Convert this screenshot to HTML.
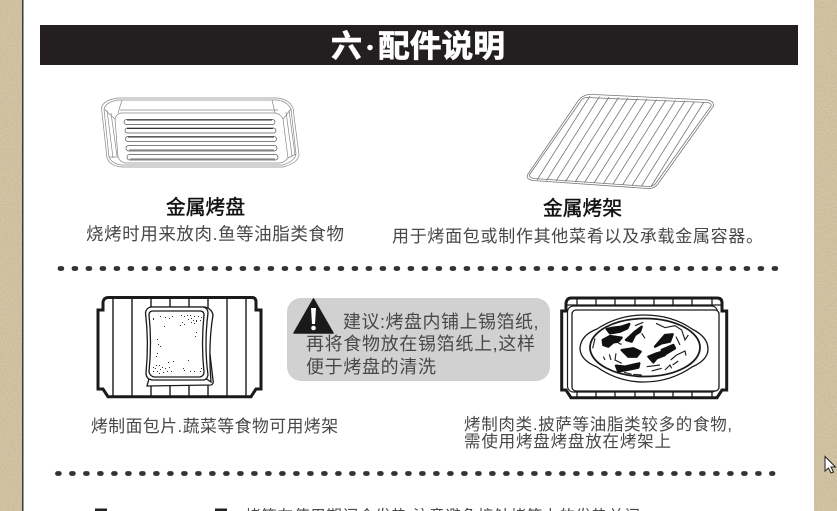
<!DOCTYPE html>
<html lang="zh"><head><meta charset="utf-8"><style>
html,body{margin:0;padding:0;width:837px;height:511px;overflow:hidden;background:#fff}
svg{display:block}
text{font-family:"Liberation Sans","Noto Sans CJK SC",sans-serif;fill:#484848}
</style></head><body>
<svg width="837" height="511" viewBox="0 0 837 511" xmlns="http://www.w3.org/2000/svg">
<defs><filter id="tex" x="0" y="0" width="100%" height="100%"><feTurbulence type="fractalNoise" baseFrequency=".7" numOctaves="2" seed="3"/><feColorMatrix values="0 0 0 0 .2  0 0 0 0 .15  0 0 0 0 .05  0 0 0 .9 -.3"/></filter></defs>
<rect width="837" height="511" fill="#fff"/>
<rect x="0" y="0" width="22" height="511" fill="#d4c6a6"/>
<rect x="814" y="0" width="23" height="511" fill="#d4c6a6"/>
<rect x="0" y="0" width="22" height="511" filter="url(#tex)" opacity=".35"/>
<rect x="814" y="0" width="23" height="511" filter="url(#tex)" opacity=".35"/>
<rect x="22" y="0" width="1.5" height="511" fill="#3c3a36"/>

<rect x="40" y="25" width="758" height="40" fill="#231f20"/>
<text x="331" y="57" style="fill:#fff;stroke:#fff;stroke-width:.7;font-size:31px;font-weight:700">六</text>
<circle cx="370" cy="47.500" r="2.800" fill="#fff"/>
<text x="378" y="57" textLength="127" lengthAdjust="spacingAndGlyphs" style="fill:#fff;stroke:#fff;stroke-width:.7;font-size:31px;font-weight:700">配件说明</text>

<!-- tray -->
<g fill="none" stroke="#888" stroke-width=".7">
<path d="M118 98H277Q289 99 293 108L299 155Q298 163 283 167H122Q110 166 107 158L101.500 108Q103 100 118 98Z"/>
<path d="M118 100H277Q287 101 291 109L296 154Q295 161 283 165H122Q112 164 109 157L104 109Q106 102 118 100Z"/>
<path d="M121 113H275Q281 114 283 119L288 158Q285 162 280 163H125Q120 162 118 157L115 119Q116 114 121 113Z"/>
<path d="M118 113L122 100M275 113L272 100M283 119L291 109M115 119L104 109M118 157L109 157M288 158L296 154M111 113L117 156M286 112L292 156M107 110L113 158M289 110L295 155"/>
<path d="M120 110H278"/>
</g>
<g fill="#fff" stroke="#555" stroke-width=".7">
<rect x="124" y="119.500" width="151" height="5" rx="2.500"/>
<rect x="125" y="128" width="151" height="5" rx="2.500"/>
<rect x="125.500" y="136.500" width="151" height="5" rx="2.500"/>
<rect x="126" y="145.500" width="151" height="5.500" rx="2.700"/>
<rect x="127" y="154.500" width="151" height="5.500" rx="2.700"/>
</g>
<g stroke="#333" fill="none"><path d="M127 120H272M127 128.500H273M128 137H274" stroke-width="1"/><path d="M129 150H274M130 159H275" stroke="#888" stroke-width="1.200"/></g>

<!-- rack -->
<g fill="none" stroke="#777" stroke-width=".8">
<path d="M584 96Q587 94 594 94.500L708 100Q714 101 713.500 106L658 184Q654 189 648 188.500L533 180.500Q525 179 528 174L578 101Q581 97 584 96Z"/>
<path d="M586 97.500L707 102.500Q712 103 711 106L656 183Q653 187 648 186.500L534 178.500Q528 177.500 530 174L580 102Q582 98 586 97.500Z"/>
<path d="M590 96L537 180M599.500 96.500L546.500 180.500M609 97L556 181M618.500 97.500L565.500 181.500M628 98L575 182M637.500 98.500L584.500 182.500M647 99L594 183M656.500 99.500L603.500 183.500M666 100L613 184M675.500 100.500L622.500 185M685 101L632 185.500M694.500 101.500L641.500 186M704 102L651 186.500"/>
</g>

<text x="166" y="214" font-size="19.700" textLength="79" style="fill:#111;stroke:#111;stroke-width:.45">金属烤盘</text>
<text x="86" y="240" font-size="17.500" textLength="258">烧烤时用来放肉.鱼等油脂类食物</text>
<text x="543" y="215" font-size="19.700" textLength="79" style="fill:#111;stroke:#111;stroke-width:.45">金属烤架</text>
<text x="392" y="242" font-size="17" textLength="371">用于烤面包或制作其他菜肴以及承载金属容器。</text>

<!-- dotted rows -->
<line x1="60" y1="268.500" x2="778" y2="268.500" stroke="#333" stroke-width="4.800" stroke-linecap="round" stroke-dasharray="1.800 12.200"/>
<line x1="57.500" y1="473.500" x2="773" y2="473.500" stroke="#333" stroke-width="4.800" stroke-linecap="round" stroke-dasharray="1.800 12.200"/>

<!-- bread on rack -->
<path d="M98 310H103V302Q104 297.500 108 297.500H252Q256 297.500 256 302V310H261V389H256L251 396.700H108L103 389H98Z" fill="#fff" stroke="#1a1a1a" stroke-width="3"/>
<path d="M113 297V397M132 297V397M151 297V397M170 297V397M189 297V397M208 297V397M227 297V397M246 297V397" stroke="#1a1a1a" stroke-width="1.400"/>
<g stroke="#1a1a1a" fill="#fff" stroke-width="1.300">
<path d="M150 375L147 386L211 385Q214 384 213 380L206 320Z"/>
<path d="M150 307H205Q212 309 213 315Q208 345 211 382L205 378H150Z"/>
<path d="M151 307H203Q208 308 208 313Q204 345 208 375Q207 380 203 380H152Q146 379 146 373Q149 342 145.500 313Q146 308 151 307Z"/>
<path d="M153 311H200Q204 311 204 315Q201 345 204 372Q204 376 200 377H154Q150 376 149 372Q152 342 149 315Q149 311 153 311Z"/>
</g>
<g fill="#333">
<path d="M153 318h1v2h-1zM160 316h1v1h-1zM165 317h1v1h-1zM169 318h1v1h-1zM172 316h1v1h-1zM181 315h1v1h-1zM184 316h1v1h-1zM187 315h1v1h-1zM190 315h1v1h-1zM194 316h1v1h-1zM198 316h1v1h-1zM201 317h1v1h-1zM188 319h1v1h-1zM191 318h1v1h-1zM193 320h1v1h-1zM196 320h1v2h-1zM200 320h1v1h-1zM182 322h1v1h-1zM191 322h1v1h-1zM194 323h1v1h-1zM164 326h1v1h-1zM180 325h1v1h-1zM184 324h1v1h-1zM196 332h1v1h-1zM195 336h1v1h-1zM157 339h1v1h-1zM158 344h1v1h-1zM160 346h1v1h-1zM157 353h1v1h-1zM156 356h1v1h-1zM168 362h1v1h-1zM173 361h1v1h-1zM188 360h1v1h-1zM153 367h1v1h-1zM156 365h1v1h-1zM159 365h1v1h-1zM162 367h1v1h-1zM165 368h1v1h-1zM169 367h1v1h-1zM153 371h1v1h-1zM157 371h1v1h-1zM160 369h1v1h-1zM163 372h1v1h-1zM167 371h1v1h-1zM171 371h1v1h-1zM184 370h1v1h-1zM190 371h1v1h-1zM194 371h1v1h-1zM200 371h1v1h-1zM201 368h1v1h-1zM155 368h1v1h-1zM159 373h1v1h-1zM183 368h1v1h-1z"/>
</g>

<!-- callout -->
<rect x="287" y="298" width="263" height="83" rx="14" fill="#d1d1d1"/>
<path d="M313.500 299L333 333H294Z" fill="#1a1a1a" stroke="#1a1a1a" stroke-width="1.500" stroke-linejoin="round"/>
<path d="M311 308H316L315 324H312Z" fill="#fff"/><circle cx="313.500" cy="328" r="2.300" fill="#fff"/>
<text x="343" y="328" font-size="18" textLength="195.500">建议:烤盘内铺上锡箔纸,</text>
<text x="306" y="350" font-size="18" textLength="229">再将食物放在锡箔纸上,这样</text>
<text x="306" y="373" font-size="18" textLength="130">便于烤盘的清洗</text>

<text x="91" y="432" font-size="16.800" textLength="247">烤制面包片.蔬菜等食物可用烤架</text>

<!-- pizza on rack -->
<path d="M561.700 311H566V303Q567 298 571 298H717Q722 298 722 303V311H726.700V390H722L717 397.700H571L566 390H561.700Z" fill="#fff" stroke="#1a1a1a" stroke-width="3"/>
<path d="M577 298V306M596 298V306M615 298V306M635 298V306M654 298V306M673 298V306M692 298V306M712 298V306M577 392V398M596 392V398M615 392V398M635 392V398M654 392V398M673 392V398M692 392V398M712 392V398M567 305H722" stroke="#1a1a1a" stroke-width="1.300" fill="none"/>
<rect x="567.500" y="306" width="150" height="86" rx="6" fill="#fff" stroke="#1a1a1a" stroke-width="1.200"/>
<rect x="572" y="310" width="147" height="81" rx="4" fill="#fff" stroke="#1a1a1a" stroke-width="1.300"/>
<path d="M580 348Q581 335 597 329Q618 315 644 315Q672 315 692 329Q708 337 708 349Q708 360 692 367Q670 382 644 382Q618 382 597 367Q580 360 580 348Z" fill="#fff" stroke="#1a1a1a" stroke-width="1.300"/>
<ellipse cx="645" cy="347.500" rx="55" ry="29" fill="#fff" stroke="#1a1a1a" stroke-width="1.800"/>
<g transform="translate(550 285) scale(.3333)">
<g fill="#111" stroke="#111" stroke-width="7" stroke-linejoin="round">
<path d="M170 132L190 128L215 125L238 117L232 130L210 140L180 145Z"/>
<path d="M158 165L180 153L215 158L205 170L190 172L175 185L160 180Z"/>
<path d="M228 165L255 140L275 125L270 140L255 150L245 170Z"/>
<path d="M315 185L345 150L368 148L360 170L335 175Z"/>
<path d="M335 195L370 180L375 190L350 205Z"/>
<path d="M215 195L250 190L272 200L260 215L235 215Z"/>
<path d="M295 215L320 205L355 195L345 210L320 220L310 232Z"/>
<path d="M198 242L225 245L268 235L265 248L230 255L205 260Z"/>
</g>
<path d="M255 122L280 112M318 115L345 128L375 122L395 135L405 165L415 150M378 155L390 180M135 160L128 190M160 215L165 225M178 208L183 225M198 205L195 225L215 235M362 225L380 210L405 198L408 212M368 240L385 228M290 245L330 240M305 258L335 250M345 255L360 240L365 250M222 262L245 268M250 268L275 270M275 145L285 160M205 175L215 178" fill="none" stroke="#222" stroke-width="3.500"/>
</g>

<text x="464" y="430" font-size="16.500" textLength="268">烤制肉类.披萨等油脂类较多的食物,</text>
<text x="464" y="447" font-size="16.500" textLength="207">需使用烤盘烤盘放在烤架上</text>

<!-- cropped bottom row -->
<rect x="95" y="508.500" width="12" height="3" fill="#222"/>
<rect x="215" y="508.500" width="12" height="3" fill="#222"/>
<text x="245" y="521" font-size="15.500" textLength="395">烤箱在使用期间会发热,注意避免接触烤箱上的发热关闭</text>

<!-- cursor -->
<path d="M825 456.500V471L828.500 468L831 473L833.500 472L831 467H835.500Z" fill="#fff" stroke="#222" stroke-width="1"/>
</svg>
</body></html>
